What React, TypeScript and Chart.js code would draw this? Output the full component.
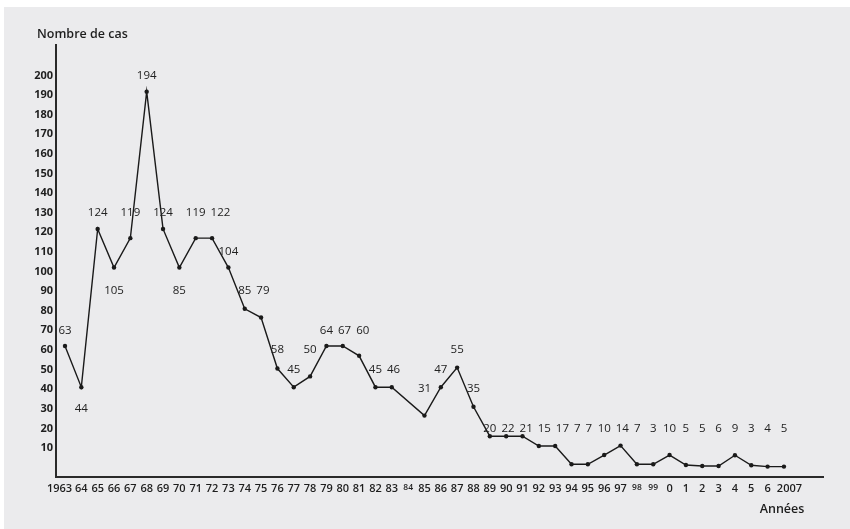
import { useEffect, useRef } from "react";
import { Chart, registerables } from "chart.js";

Chart.register(...registerables);

const FONT = "'Open Sans', 'Noto Sans', sans-serif";

// Years (x categories)
const years = [
  1963, 1964, 1965, 1966, 1967, 1968, 1969, 1970, 1971, 1972, 1973, 1974, 1975,
  1976, 1977, 1978, 1979, 1980, 1981, 1982, 1983, 1984, 1985, 1986, 1987, 1988,
  1989, 1990, 1991, 1992, 1993, 1994, 1995, 1996, 1997, 1998, 1999, 2000, 2001,
  2002, 2003, 2004, 2005, 2006, 2007,
];

// Plotted values (as drawn in the figure); 1984 has no point
const cases: (number | null)[] = [
  62, 41, 121.7, 102, 117, 191.7, 121.7, 102, 117, 117, 102, 81, 76.5,
  50.5, 41, 46.5, 62, 62, 57, 41, 41, null, 26.5, 41, 51, 31,
  16, 16, 16, 11, 11, 1.7, 1.7, 6.4, 11.2, 1.7, 1.7, 6.4, 1.3,
  0.8, 0.8, 6.3, 1.2, 0.5, 0.5,
];

// Printed value labels
const valueLabels: (string | null)[] = [
  "63", "44", "124", "105", "119", "194", "124", "85", "119", "122", "104", "85", "79",
  "58", "45", "50", "64", "67", "60", "45", "46", null, "31", "47", "55", "35",
  "20", "22", "21", "15", "17", "7", "7", "10", "14", "7", "3", "10", "5",
  "5", "6", "9", "3", "4", "5",
];

// X tick labels
const tickLabels = [
  "1963", "64", "65", "66", "67", "68", "69", "70", "71", "72", "73", "74", "75",
  "76", "77", "78", "79", "80", "81", "82", "83", "84", "85", "86", "87", "88",
  "89", "90", "91", "92", "93", "94", "95", "96", "97", "98", "99", "0", "1",
  "2", "3", "4", "5", "6", "2007",
];

// Y tick values
const yTicks = [10, 20, 30, 40, 50, 60, 70, 80, 90, 100, 110, 120, 130, 140, 150, 160, 170, 180, 190, 200];

const smallTickLabels = ["84", "98", "99"];
const labelsBelow = [1964, 1966, 1970];

const bgPlugin = {
  id: "bg",
  beforeDraw(chart: any) {
    const { ctx, width, height } = chart;
    ctx.save();
    ctx.fillStyle = "#ffffff";
    ctx.fillRect(0, 0, width, height);
    ctx.fillStyle = "#ebebed";
    ctx.fillRect(4, 7, width - 4, height - 7);
    ctx.restore();
  },
};

const textPlugin = {
  id: "texts",
  afterDraw(chart: any) {
    const { ctx } = chart;
    ctx.save();
    ctx.fillStyle = "#1e1e1e";
    ctx.font = "600 12.5px " + FONT;
    ctx.textBaseline = "middle";
    ctx.textAlign = "left";
    ctx.fillText("Nombre de cas", 37, 34);
    ctx.textAlign = "center";
    ctx.fillText("Années", 782, 509);
    ctx.restore();
  },
};

const labelPlugin = {
  id: "valueLabels",
  afterDatasetsDraw(chart: any) {
    const { ctx } = chart;
    const x = chart.scales.x;
    const y = chart.scales.y;
    ctx.save();
    ctx.font = "500 11.5px " + FONT;
    ctx.fillStyle = "#222";
    ctx.textAlign = "center";
    ctx.textBaseline = "middle";
    const lastRight: Record<number, number> = {};
    years.forEach((yr, i) => {
      const text = valueLabels[i];
      const v = cases[i];
      if (text == null || v == null) return;
      const below = labelsBelow.includes(yr);
      const row = below
        ? Math.floor((v - 4) / 10) * 10
        : Math.max(20, Math.ceil((v + 4) / 10) * 10);
      let px = x.getPixelForValue(yr);
      const w = ctx.measureText(text).width;
      const prev = lastRight[row];
      if (prev !== undefined && px - w / 2 < prev + 5) px = prev + 5 + w / 2;
      lastRight[row] = px + w / 2;
      ctx.fillText(text, px, y.getPixelForValue(row));
    });
    ctx.restore();
  },
};

export default function App() {
  const ref = useRef<HTMLCanvasElement | null>(null);

  useEffect(() => {
    if (!ref.current) return;
    const chart = new Chart(ref.current, {
      type: "line",
      data: {
        datasets: [
          {
            data: years.map((yr, i) => ({ x: yr, y: cases[i] as any })),
            borderColor: "#1a1a1a",
            borderWidth: 1.4,
            pointRadius: 2.2,
            pointBackgroundColor: "#1a1a1a",
            pointBorderColor: "#1a1a1a",
            pointBorderWidth: 0,
            spanGaps: true,
            tension: 0,
          },
        ],
      },
      options: {
        animation: false,
        responsive: false,
        devicePixelRatio: 1,
        layout: { padding: { left: 0, right: 27, top: 45, bottom: 0 } },
        plugins: {
          legend: { display: false },
          tooltip: { enabled: false },
          title: { display: false },
        },
        scales: {
          x: {
            type: "linear",
            min: 1962.45,
            max: 2009.39,
            afterBuildTicks: (scale: any) => {
              scale.ticks = years.map((v) => ({ value: v }));
            },
            afterFit: (scale: any) => {
              scale.height = 52;
            },
            grid: { display: false, drawTicks: false },
            border: { display: true, color: "#2a2a2a", width: 2 },
            ticks: {
              autoSkip: false,
              maxRotation: 0,
              minRotation: 0,
              padding: 5,
              color: "#1e1e1e",
              font: (c: any) => {
                const lbl = c.tick ? tickLabels[years.indexOf(c.tick.value)] : "";
                return smallTickLabels.includes(lbl)
                  ? { family: FONT, size: 8.5, weight: "600" }
                  : { family: FONT, size: 11, weight: "600" };
              },
              callback: (value: any) => {
                const i = years.indexOf(Number(value));
                const lbl = tickLabels[i] ?? "";
                // the four-digit end labels sit slightly outward of their points in the original
                if (i === 0) return lbl + "\u2002\u2002";
                if (i === years.length - 1) return "\u2002\u2002" + lbl;
                return lbl;
              },
            },
          },
          y: {
            type: "linear",
            min: -4.8,
            max: 215.5,
            afterBuildTicks: (scale: any) => {
              scale.ticks = yTicks.map((v) => ({ value: v }));
            },
            afterFit: (scale: any) => {
              scale.width = 56;
            },
            grid: { display: false, drawTicks: false },
            border: { display: true, color: "#2a2a2a", width: 2 },
            ticks: {
              padding: 3,
              color: "#1e1e1e",
              font: { family: FONT, size: 11, weight: "bold" },
              callback: (value: any) => String(value),
            },
          },
        },
      },
      plugins: [bgPlugin, labelPlugin, textPlugin],
    });
    return () => chart.destroy();
  }, []);

  return (
    <div style={{ position: "fixed", left: 0, top: 0, width: 850, height: 529 }}>
      <canvas ref={ref} width={850} height={529} style={{ width: 850, height: 529, display: "block" }} />
    </div>
  );
}
